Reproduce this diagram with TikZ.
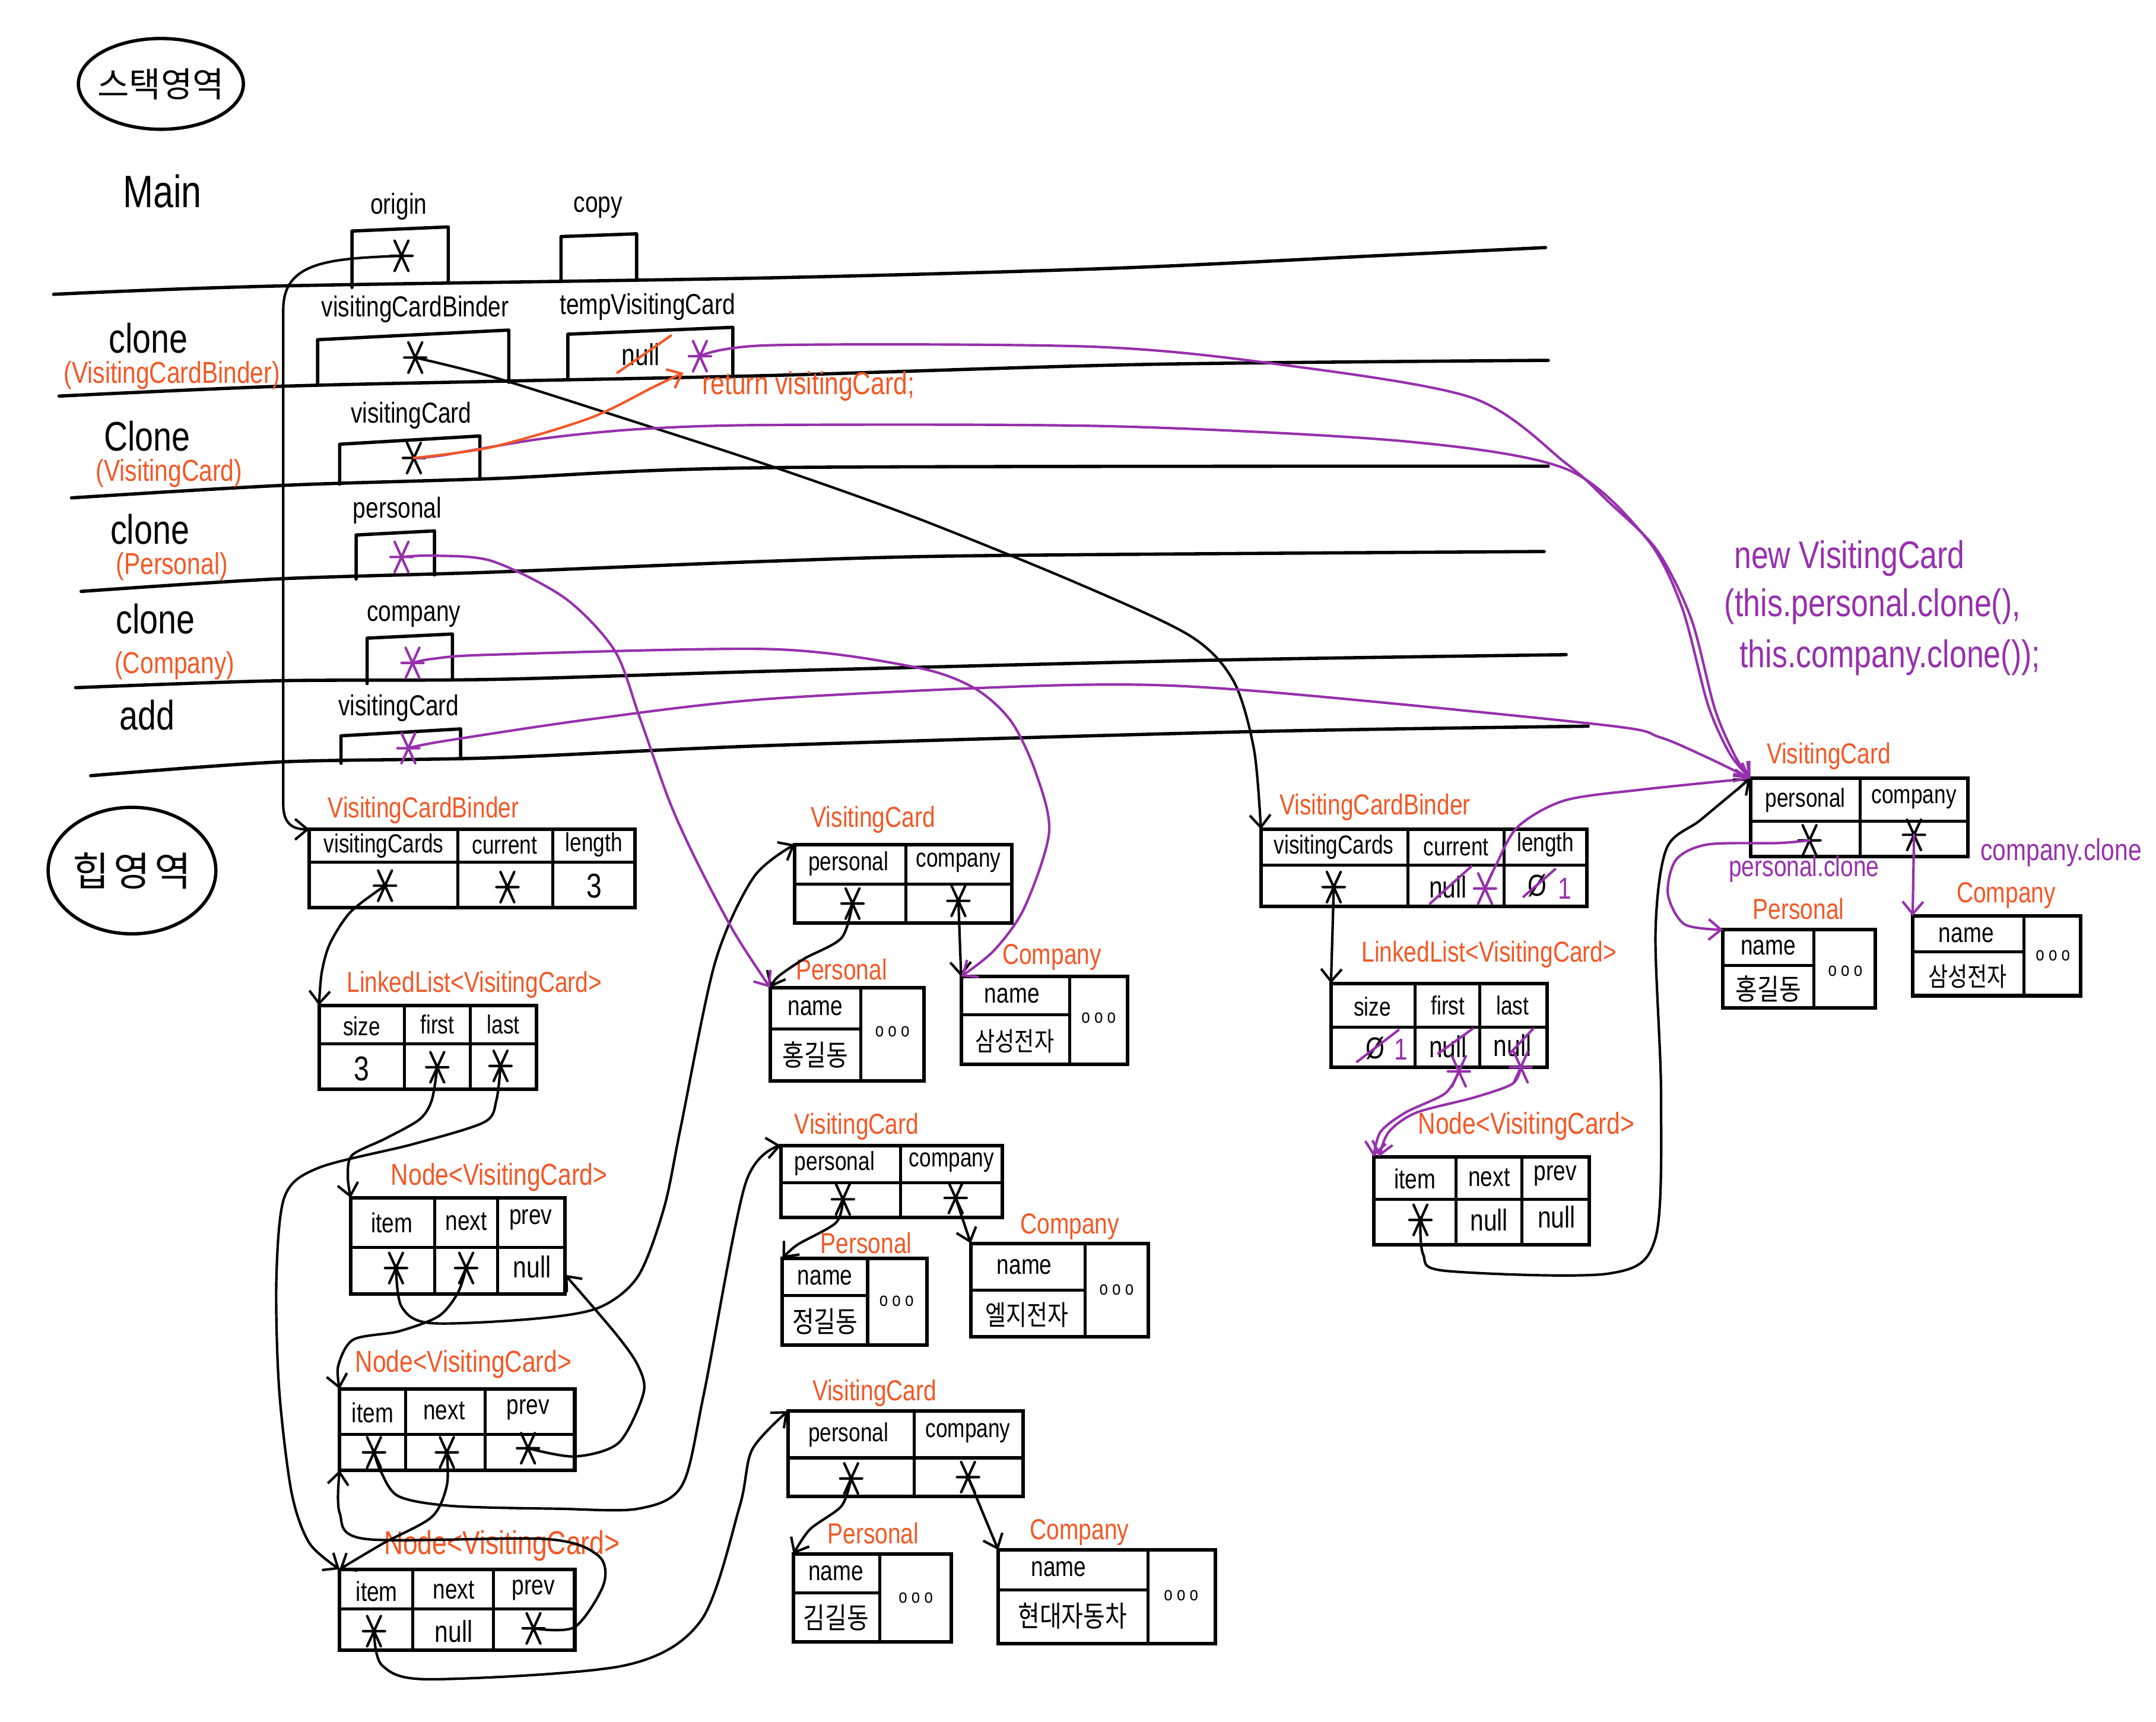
\documentclass[tikz,border=0pt]{standalone}
\usepackage{fontspec}
\setmainfont{Liberation Sans}[FakeStretch=0.8]
\newfontfamily\kr{Noto Sans CJK KR}
\newfontfamily\krn{Noto Sans CJK KR}[FakeStretch=0.82]
\usetikzlibrary{arrows.meta,shapes.geometric}
\definecolor{orng}{RGB}{242,88,38}
\definecolor{purp}{RGB}{150,48,172}
\newcommand\fsz[1]{\fontsize{#1}{#1}\selectfont}
% object table: name, left, top, right, bottom
\newcommand\tbl[5]{\node[tabbox, anchor=north west, minimum width={(#4)-(#2)}, minimum height={(#5)-(#3)}] (#1) at (#2,#3) {};}
\tikzset{
  frline/.style={line width=2.4pt, line cap=round, line join=round},
  tabbox/.style={draw, line width=2.6pt, inner sep=0pt, outer sep=0pt},
  gl/.style={line width=2.2pt, line cap=round},
  conn/.style={line width=1.8pt, line cap=round, -{Straight Barb[length=9pt, width=15pt]}},
  pconn/.style={conn, draw=purp},
  oconn/.style={conn, draw=orng},
  txt/.style={inner sep=1pt},
  fname/.style={inner sep=0pt, font=\fsz{30}},
  fsub/.style={inner sep=0pt, font=\fsz{22}, text=orng},
  vname/.style={txt, font=\fsz{21}},
  cls/.style={txt, font=\fsz{21}, text=orng},
  hd/.style={txt, font=\fsz{19}},
  nm/.style={txt, font=\fsz{20}},
  val/.style={txt, font=\fsz{22}},
  kor/.style={txt, font=\krn\fsz{21}},
  ellip/.style={txt, font=\fsz{14}},
  memo/.style={txt, font=\fsz{28}, text=purp, anchor=west},
  strike/.style={line width=1.8pt, line cap=round},
  ptr/.style={minimum size=24pt, inner sep=0pt, outer sep=0pt,
    path picture={
      \draw[#1, line width=1.8pt, line cap=round]
        ([xshift=-8pt]path picture bounding box.center) -- ([xshift=8pt]path picture bounding box.center)
        ([shift={(-5pt,-11pt)}]path picture bounding box.center) -- ([shift={(5pt,11pt)}]path picture bounding box.center)
        ([shift={(5pt,-11pt)}]path picture bounding box.center) -- ([shift={(-5pt,11pt)}]path picture bounding box.center);
    }},
  ptr/.default=black
}
\begin{document}
\begin{tikzpicture}[x=1pt, y=-1pt]
\fill[white] (0,0) rectangle (1568,1252);
\useasboundingbox (0,0) rectangle (1568,1252);

% ---------------- stack ----------------
\node[draw, ellipse, line width=2.4pt, minimum width=120pt, minimum height=66pt] (stackarea) at (117,61) {};
\node[txt, font=\kr\fsz{25}] (stacktxt) at (stackarea.center) {스택영역};

\node[fname, font=\fsz{33}] (tmain) at (118,139) {Main};

\draw[frline] plot[smooth] coordinates {(39,214) (200,208) (561,202) (811,195) (1000,186) (1124,180)};
\draw[frline] plot[smooth] coordinates {(43,288) (200,281) (372,277) (561,273) (831,265) (1126,262)};
\draw[frline] plot[smooth] coordinates {(52,362) (204,353) (358,348) (561,340) (1126,339)};
\draw[frline] plot[smooth] coordinates {(59,430) (200,421) (358,416) (561,408) (715,404) (1123,401)};
\draw[frline] plot[smooth] coordinates {(55,500) (200,495) (358,494) (561,488) (882,480) (1139,476)};
\draw[frline] plot[smooth] coordinates {(66,564) (204,554) (358,551) (561,542) (908,532) (1155,528)};

% Main frame
\draw[frline] (256,209) -- (256,168) -- (326,165) -- (326,205);
\draw[frline] (408,204) -- (408,172) -- (463,170) -- (463,203);
\node[vname] (lorigin) at (290,150) {origin};
\node[vname] (lcopy) at (435,151) {copy};
\node[ptr] (so) at (292,186) {};

% clone (VisitingCardBinder)
\node[fname] (f1) at (108,246) {clone};
\node[fsub] (f1s) at (125,273) {(VisitingCardBinder)};
\draw[frline] (231,279) -- (231,247) -- (370,240) -- (370,278);
\node[vname] (lvcb) at (302,225) {visitingCardBinder};
\node[ptr] (svcb) at (302,260) {};
\draw[frline] (413,276) -- (413,243) -- (533,238) -- (533,274);
\node[vname] (ltemp) at (471,223) {tempVisitingCard};
\node[val] (tnull) at (466,258) {null};
\draw[strike, orng] ([shift={(-17,13)}]tnull.center) -- ([shift={(22,-14)}]tnull.center);
\node[ptr=purp] (stemp) at (509,259) {};
\node[txt, font=\fsz{23}, text=orng] (tret) at (588,281) {return visitingCard;};

% clone (VisitingCard)
\node[fname] (f2) at (107,317) {Clone};
\node[fsub] (f2s) at (123,344) {(VisitingCard)};
\draw[frline] (247,352) -- (247,323) -- (349,317) -- (349,348);
\node[vname] (lvc) at (299,302) {visitingCard};
\node[ptr] (svc) at (301,333) {};

% clone (Personal)
\node[fname] (f3) at (109,385) {clone};
\node[fsub] (f3s) at (125,412) {(Personal)};
\draw[frline] (259,421) -- (259,389) -- (316,386) -- (316,418);
\node[vname] (lper) at (289,371) {personal};
\node[ptr=purp] (sper) at (292,405) {};

% clone (Company)
\node[fname] (f4) at (113,450) {clone};
\node[fsub] (f4s) at (127,484) {(Company)};
\draw[frline] (267,497) -- (267,464) -- (329,461) -- (329,494);
\node[vname] (lcom) at (301,448) {company};
\node[ptr=purp] (scom) at (300,482) {};

% add
\node[fname] (f5) at (107,520) {add};
\draw[frline] (248,555) -- (248,535) -- (335,530) -- (335,551);
\node[vname] (ladd) at (290,515) {visitingCard};
\node[ptr=purp] (sadd) at (297,544) {};

% ---------------- heap ----------------
\node[draw, ellipse, line width=2.4pt, minimum width=122pt, minimum height=92pt] (heaparea) at (96,633) {};
\node[txt, font=\kr\fsz{29}] (heaptxt) at (heaparea.center) {힙\hspace{3pt}영\hspace{3pt}역};

% binder
\node[cls] (c-vcb1) at (308,589) {VisitingCardBinder};
\tbl{vcb1}{225}{603}{462}{660}
\draw[gl] (225,627) -- (462,627) (333,603) -- (333,660) (402,603) -- (402,660);
\node[hd] (vcb1h1) at (279,615) {visitingCards};
\node[hd] (vcb1h2) at (367,615) {current};
\node[hd] (vcb1h3) at (432,614) {length};
\node[ptr] (vcb1a) at (280,644) {};
\node[ptr] (vcb1b) at (369,645) {};
\node[val, font=\fsz{25}] (vcb1c) at (432,644) {3};

% list
\node[cls] (c-ll1) at (345,716) {LinkedList<VisitingCard>};
\tbl{ll1}{232}{731}{390}{792}
\draw[gl] (232,759) -- (390,759) (294,731) -- (294,792) (342,731) -- (342,792);
\node[hd] (ll1h1) at (263,746) {size};
\node[hd] (ll1h2) at (318,745) {first};
\node[hd] (ll1h3) at (366,745) {last};
\node[val, font=\fsz{25}] (ll1a) at (263,777) {3};
\node[ptr] (ll1b) at (318,776) {};
\node[ptr] (ll1c) at (364,775) {};

% nodes
\node[cls, font=\fsz{22}] (c-n1) at (363,856) {Node<VisitingCard>};
\tbl{n1}{255}{871}{411}{941}
\draw[gl] (255,907) -- (411,907) (316,871) -- (316,941) (362,871) -- (362,941);
\node[hd, font=\fsz{20}] (n1h1) at (285,889) {item};
\node[hd, font=\fsz{20}] (n1h2) at (339,888) {next};
\node[hd, font=\fsz{20}] (n1h3) at (386,887) {prev};
\node[ptr] (n1a) at (288,922) {};
\node[ptr] (n1b) at (339,922) {};
\node[val] (n1c) at (387,921) {null};

\node[cls, font=\fsz{22}] (c-n2) at (337,992) {Node<VisitingCard>};
\tbl{n2}{247}{1010}{418}{1069}
\draw[gl] (247,1043) -- (418,1043) (295,1010) -- (295,1069) (353,1010) -- (353,1069);
\node[hd, font=\fsz{20}] (n2h1) at (271,1027) {item};
\node[hd, font=\fsz{20}] (n2h2) at (323,1026) {next};
\node[hd, font=\fsz{20}] (n2h3) at (384,1025) {prev};
\node[ptr] (n2a) at (272,1056) {};
\node[ptr] (n2b) at (325,1056) {};
\node[ptr] (n2c) at (384,1053) {};

\node[cls, font=\fsz{24}] (c-n3) at (365,1124) {Node<VisitingCard>};
\tbl{n3}{247}{1141}{418}{1200}
\draw[gl] (247,1170) -- (418,1170) (300,1141) -- (300,1200) (359,1141) -- (359,1200);
\node[hd, font=\fsz{20}] (n3h1) at (274,1157) {item};
\node[hd, font=\fsz{20}] (n3h2) at (330,1156) {next};
\node[hd, font=\fsz{20}] (n3h3) at (388,1156) {prev};
\node[ptr] (n3a) at (272,1186) {};
\node[val] (n3b) at (330,1186) {null};
\node[ptr] (n3c) at (388,1184) {};

% cards
\node[cls] (c-vc1) at (635,596) {VisitingCard};
\tbl{vc1}{578}{614}{736}{671}
\draw[gl] (578,643) -- (736,643) (659,614) -- (659,671);
\node[hd] (vc1h1) at (617,628) {personal};
\node[hd] (vc1h2) at (697,627) {company};
\node[ptr] (vc1a) at (620,657) {};
\node[ptr] (vc1b) at (697,655) {};

\node[cls] (c-p1) at (612,705) {Personal};
\tbl{p1}{560}{718}{672}{786}
\draw[gl] (560,748) -- (626,748) (626,718) -- (626,786);
\node[nm] (p1h) at (593,733) {name};
\node[kor] (p1v) at (593,767) {홍길동};
\node[ellip] (p1d) at (649,750) {o o o};

\node[cls] (c-c1) at (765,696) {Company};
\tbl{c1}{699}{710}{820}{774}
\draw[gl] (699,738) -- (778,738) (778,710) -- (778,774);
\node[nm] (c1h) at (736,724) {name};
\node[kor, font=\krn\fsz{19}] (c1v) at (738,757) {삼성전자};
\node[ellip] (c1d) at (799,740) {o o o};

\node[cls] (c-vc2) at (623,819) {VisitingCard};
\tbl{vc2}{568}{833}{729}{885}
\draw[gl] (568,860) -- (729,860) (655,833) -- (655,885);
\node[hd] (vc2h1) at (607,846) {personal};
\node[hd] (vc2h2) at (692,845) {company};
\node[ptr] (vc2a) at (613,872) {};
\node[ptr] (vc2b) at (695,871) {};

\node[cls] (c-p2) at (630,904) {Personal};
\tbl{p2}{569}{915}{674}{978}
\draw[gl] (569,942) -- (631,942) (631,915) -- (631,978);
\node[nm] (p2h) at (600,929) {name};
\node[kor] (p2v) at (600,961) {정길동};
\node[ellip] (p2d) at (652,946) {o o o};

\node[cls] (c-c2) at (778,892) {Company};
\tbl{c2}{706}{904}{835}{972}
\draw[gl] (706,938) -- (789,938) (789,904) -- (789,972);
\node[nm] (c2h) at (745,921) {name};
\node[kor, font=\krn\fsz{20}] (c2v) at (747,956) {엘지전자};
\node[ellip] (c2d) at (812,938) {o o o};

\node[cls] (c-vc3) at (636,1013) {VisitingCard};
\tbl{vc3}{573}{1026}{744}{1088}
\draw[gl] (573,1060) -- (744,1060) (665,1026) -- (665,1088);
\node[hd] (vc3h1) at (617,1043) {personal};
\node[hd] (vc3h2) at (704,1042) {company};
\node[ptr] (vc3a) at (619,1075) {};
\node[ptr] (vc3b) at (704,1074) {};

\node[cls] (c-p3) at (635,1115) {Personal};
\tbl{p3}{577}{1130}{692}{1194}
\draw[gl] (577,1158) -- (640,1158) (640,1130) -- (640,1194);
\node[nm] (p3h) at (608,1144) {name};
\node[kor] (p3v) at (608,1176) {김길동};
\node[ellip] (p3d) at (666,1162) {o o o};

\node[cls] (c-c3) at (785,1114) {Company};
\tbl{c3}{726}{1127}{884}{1195}
\draw[gl] (726,1156) -- (835,1156) (835,1127) -- (835,1195);
\node[nm] (c3h) at (770,1141) {name};
\node[kor] (c3v) at (780,1175) {현대자동차};
\node[ellip] (c3d) at (859,1160) {o o o};

% copied binder
\node[cls] (c-vcb2) at (1000,587) {VisitingCardBinder};
\tbl{vcb2}{917}{603}{1154}{659}
\draw[gl] (917,629) -- (1154,629) (1024,603) -- (1024,659) (1094,603) -- (1094,659);
\node[hd] (vcb2h1) at (970,616) {visitingCards};
\node[hd] (vcb2h2) at (1059,616) {current};
\node[hd] (vcb2h3) at (1124,614) {length};
\node[ptr] (vcb2a) at (970,645) {};
\node[val] (vcb2null) at (1053,645) {null};
\draw[strike, purp] ([shift={(-13,12)}]vcb2null.center) -- ([shift={(17,-15)}]vcb2null.center);
\node[ptr=purp] (vcb2b) at (1080,646) {};
\node[val] (vcb2zero) at (1118,644) {Ø};
\draw[strike, purp] ([shift={(-10,8)}]vcb2zero.center) -- ([shift={(13,-12)}]vcb2zero.center);
\node[val, text=purp] (vcb2one) at (1138,646) {1};

\node[cls] (c-ll2) at (1083,694) {LinkedList<VisitingCard>};
\tbl{ll2}{968}{715}{1125}{776}
\draw[gl] (968,747) -- (1125,747) (1029,715) -- (1029,776) (1076,715) -- (1076,776);
\node[hd] (ll2h1) at (998,732) {size};
\node[hd] (ll2h2) at (1053,731) {first};
\node[hd] (ll2h3) at (1100,731) {last};
\node[val] (ll2zero) at (1000,762) {Ø};
\draw[strike, purp] ([shift={(-13,10)}]ll2zero.center) -- ([shift={(17,-13)}]ll2zero.center);
\node[val, text=purp] (ll2one) at (1019,763) {1};
\node[val] (ll2null1) at (1053,761) {null};
\draw[strike, purp] ([shift={(-7,5)}]ll2null1.center) -- ([shift={(18,-13)}]ll2null1.center);
\node[val] (ll2null2) at (1100,760) {null};
\draw[strike, purp] ([shift={(-2,6)}]ll2null2.center) -- ([shift={(15,-12)}]ll2null2.center);
\node[ptr=purp] (ll2b) at (1061,779) {};
\node[ptr=purp] (ll2c) at (1106,776) {};

\node[cls, font=\fsz{22}] (c-n4) at (1110,819) {Node<VisitingCard>};
\tbl{n4}{999}{841}{1156}{905}
\draw[gl] (999,872) -- (1156,872) (1059,841) -- (1059,905) (1107,841) -- (1107,905);
\node[hd, font=\fsz{20}] (n4h1) at (1029,857) {item};
\node[hd, font=\fsz{20}] (n4h2) at (1083,856) {next};
\node[hd, font=\fsz{20}] (n4h3) at (1131,855) {prev};
\node[ptr] (n4a) at (1033,887) {};
\node[val] (n4b) at (1083,887) {null};
\node[val] (n4c) at (1132,885) {null};

% new card
\node[memo] (m1) at (1260,406) {new VisitingCard};
\node[memo] (m2) at (1253,441) {(this.personal.clone(),};
\node[memo] (m3) at (1264,478) {this.company.clone());};

\node[cls] (c-vc4) at (1330,550) {VisitingCard};
\tbl{vc4}{1273}{566}{1431}{623}
\draw[gl] (1273,597) -- (1431,597) (1353,566) -- (1353,623);
\node[hd] (vc4h1) at (1313,582) {personal};
\node[hd] (vc4h2) at (1392,581) {company};
\node[ptr] (vc4a) at (1316,611) {};
\node[ptr] (vc4b) at (1392,607) {};

\node[txt, font=\fsz{21}, text=purp] (mpc) at (1312,632) {personal.clone};
\node[txt, font=\fsz{22}, text=purp] (mcc) at (1499,620) {company.clone};

\node[cls] (c-p4) at (1308,661) {Personal};
\tbl{p4}{1253}{676}{1364}{733}
\draw[gl] (1253,702) -- (1319,702) (1319,676) -- (1319,733);
\node[nm] (p4h) at (1286,689) {name};
\node[kor] (p4v) at (1286,719) {홍길동};
\node[ellip] (p4d) at (1342,706) {o o o};

\node[cls] (c-c4) at (1459,651) {Company};
\tbl{c4}{1391}{666}{1513}{724}
\draw[gl] (1391,692) -- (1472,692) (1472,666) -- (1472,724);
\node[nm] (c4h) at (1430,680) {name};
\node[kor, font=\krn\fsz{19}] (c4v) at (1431,710) {삼성전자};
\node[ellip] (c4d) at (1493,695) {o o o};

% ---------------- references ----------------
\draw[conn] (so.center) .. controls (240,188) and (206,190) .. (206,225) -- (206,585) .. controls (206,600) and (214,603) .. (vcb1.north west);
\draw[conn] plot[smooth] coordinates {(svcb.center) (358,274) (447,302) (561,339) (665,376) (781,423) (865,462) (897,495) (912,545) (vcb2.north west)};

\draw[conn] plot[smooth] coordinates {(vcb1a.center) (255,663) (240,686) (234,707) (ll1.north west)};
\draw[conn] plot[smooth] coordinates {(ll1b.center) (314,800) (305,814) (280,828) (256,840) (253,856) (n1.north west)};
\draw[conn] plot[smooth] coordinates {(ll1c.center) (361,800) (352,816) (300,832) (232,849) (207,870) (201,930) (203,1010) (212,1085) (225,1122) (n3.north west)};

\draw[conn] plot[smooth] coordinates {(n1a.center) (292,950) (313,962) (387,959) (435,951) (464,928) (483,878) (495,820) (520,700) (548,638) (vc1.north west)};
\draw[conn] plot[smooth] coordinates {(n1b.center) (333,940) (319,957) (290,968) (257,974) (246,993) (n2.north west)};
\draw[conn] plot[smooth] coordinates {(n2a.center) (277,1070) (290,1088) (329,1095) (406,1097) (464,1097) (496,1080) (512,1013) (542,861) (vc2.north west)};
\draw[conn] plot[smooth] coordinates {(n2b.center) (325,1080) (314,1103) (279,1122) (n3.north west)};
\draw[conn] plot[smooth] coordinates {(n2c.center) (418,1059) (450,1049) (468,1013) (464,993) (448,970) (n1.-15)};
\draw[conn] plot[smooth] coordinates {(n3c.center) (418,1183) (439,1152) (435,1131) (397,1119) (266,1119) (247,1100) (n2.south west)};
\draw[conn] plot[smooth] coordinates {(n3a.center) (278,1211) (313,1221) (454,1211) (510,1178) (538,1095) (547,1054) (vc3.north west)};

\draw[conn] plot[smooth] coordinates {(vc1a.center) (612,682) (585,697) (566,710) (p1.north west)};
\draw[conn] (vc1b.center) -- (c1.north west);
\draw[conn] plot[smooth] coordinates {(vc2a.center) (608,889) (580,905) (p2.north west)};
\draw[conn] (vc2b.center) -- (c2.north west);
\draw[conn] plot[smooth] coordinates {(vc3a.center) (612,1095) (589,1112) (p3.north west)};
\draw[conn] (vc3b.center) -- (c3.north west);

\draw[conn] (vcb2a.center) -- (ll2.north west);
\draw[pconn] plot[smooth] coordinates {(ll2b.center) (1051,795) (1022,809) (1004,823) (n4.north west)};
\draw[pconn] plot[smooth] coordinates {(ll2c.center) (1100,788) (1072,798) (1030,809) (1010,823) ([xshift=4pt]n4.north west)};
\draw[pconn] plot[smooth] coordinates {(vcb2b.center) (1088,629) (1104,601) (1138,582) (1195,574) (vc4.north west)};
\draw[conn] plot[smooth] coordinates {(n4a.center) (1035,912) (1051,924) (1170,926) (1204,900) (1208,795) (1204,678) (1212,617) (1237,596) (vc4.north west)};

\draw[pconn] plot[smooth] coordinates {(vc4a.center) (1293,613) (1242,614) (1219,625) (1213,650) (1225,672) (p4.north west)};
\draw[pconn] (vc4b.center) -- (c4.north west);

\draw[pconn] plot[smooth] coordinates {(svc.center) (322,331) (394,319) (465,312) (561,309) (811,310) (1023,321) (1139,341) (1197,391) (1223,441) (1242,512) (1258,548) (vc4.north west)};
\draw[pconn] plot[smooth] coordinates {(stemp.center) (561,251) (792,252) (923,264) (1070,289) (1139,337) (1170,365) (1205,400) (1230,450) (1247,515) (1262,550) (vc4.north west)};
\draw[pconn] plot[smooth] coordinates {(sadd.center) (322,539) (429,523) (561,508) (781,498) (908,502) (1165,527) (1207,536) (1240,550) (vc4.north west)};
\draw[pconn] plot[smooth] coordinates {(sper.center) (315,404) (358,408) (411,435) (447,473) (465,521) (487,583) (507,627) (534,678) (p1.north west)};
\draw[pconn] plot[smooth] coordinates {(scom.center) (315,479) (358,476) (561,472) (665,485) (708,500) (735,524) (753,561) (763,605) (745,660) (723,691) (c1.north west)};

\draw[oconn] plot[smooth] coordinates {(svc.center) (358,325) (429,304) (476,281) (stemp.south west)};

\end{tikzpicture}
\end{document}
